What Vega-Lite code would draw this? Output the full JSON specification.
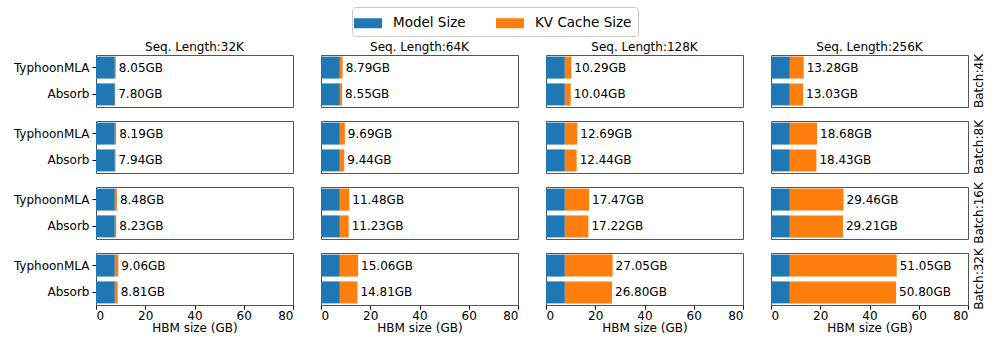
{
  "$schema": "https://vega.github.io/schema/vega-lite/v6.json",
  "padding": {"top": 6, "left": 13, "right": 5, "bottom": 5},
  "bounds": "flush",
  "config": {
    "font": "DejaVu Sans",
    "view": {"stroke": "#555", "strokeWidth": 1},
    "axis": {"labelFont": "DejaVu Sans", "titleFont": "DejaVu Sans", "labelFontSize": 12, "titleFontSize": 12, "labelColor": "#000", "titleColor": "#000", "tickColor": "#000", "grid": false, "domain": false, "titleFontWeight": "normal"},
    "header": {"labelFont": "DejaVu Sans", "labelFontSize": 12, "labelColor": "#000"},
    "legend": {"labelFont": "DejaVu Sans"}
  },
  "data": {"values": [
    {"s": "Seq. Length:32K", "b": "Batch:4K", "m": "TyphoonMLA", "model": 7.65, "total": 8.05, "label": "8.05GB"},
    {"s": "Seq. Length:32K", "b": "Batch:4K", "m": "Absorb", "model": 7.65, "total": 7.80, "label": "7.80GB"},
    {"s": "Seq. Length:32K", "b": "Batch:8K", "m": "TyphoonMLA", "model": 7.65, "total": 8.19, "label": "8.19GB"},
    {"s": "Seq. Length:32K", "b": "Batch:8K", "m": "Absorb", "model": 7.65, "total": 7.94, "label": "7.94GB"},
    {"s": "Seq. Length:32K", "b": "Batch:16K", "m": "TyphoonMLA", "model": 7.65, "total": 8.48, "label": "8.48GB"},
    {"s": "Seq. Length:32K", "b": "Batch:16K", "m": "Absorb", "model": 7.65, "total": 8.23, "label": "8.23GB"},
    {"s": "Seq. Length:32K", "b": "Batch:32K", "m": "TyphoonMLA", "model": 7.65, "total": 9.06, "label": "9.06GB"},
    {"s": "Seq. Length:32K", "b": "Batch:32K", "m": "Absorb", "model": 7.65, "total": 8.81, "label": "8.81GB"},
    {"s": "Seq. Length:64K", "b": "Batch:4K", "m": "TyphoonMLA", "model": 7.65, "total": 8.79, "label": "8.79GB"},
    {"s": "Seq. Length:64K", "b": "Batch:4K", "m": "Absorb", "model": 7.65, "total": 8.55, "label": "8.55GB"},
    {"s": "Seq. Length:64K", "b": "Batch:8K", "m": "TyphoonMLA", "model": 7.65, "total": 9.69, "label": "9.69GB"},
    {"s": "Seq. Length:64K", "b": "Batch:8K", "m": "Absorb", "model": 7.65, "total": 9.44, "label": "9.44GB"},
    {"s": "Seq. Length:64K", "b": "Batch:16K", "m": "TyphoonMLA", "model": 7.65, "total": 11.48, "label": "11.48GB"},
    {"s": "Seq. Length:64K", "b": "Batch:16K", "m": "Absorb", "model": 7.65, "total": 11.23, "label": "11.23GB"},
    {"s": "Seq. Length:64K", "b": "Batch:32K", "m": "TyphoonMLA", "model": 7.65, "total": 15.06, "label": "15.06GB"},
    {"s": "Seq. Length:64K", "b": "Batch:32K", "m": "Absorb", "model": 7.65, "total": 14.81, "label": "14.81GB"},
    {"s": "Seq. Length:128K", "b": "Batch:4K", "m": "TyphoonMLA", "model": 7.65, "total": 10.29, "label": "10.29GB"},
    {"s": "Seq. Length:128K", "b": "Batch:4K", "m": "Absorb", "model": 7.65, "total": 10.04, "label": "10.04GB"},
    {"s": "Seq. Length:128K", "b": "Batch:8K", "m": "TyphoonMLA", "model": 7.65, "total": 12.69, "label": "12.69GB"},
    {"s": "Seq. Length:128K", "b": "Batch:8K", "m": "Absorb", "model": 7.65, "total": 12.44, "label": "12.44GB"},
    {"s": "Seq. Length:128K", "b": "Batch:16K", "m": "TyphoonMLA", "model": 7.65, "total": 17.47, "label": "17.47GB"},
    {"s": "Seq. Length:128K", "b": "Batch:16K", "m": "Absorb", "model": 7.65, "total": 17.22, "label": "17.22GB"},
    {"s": "Seq. Length:128K", "b": "Batch:32K", "m": "TyphoonMLA", "model": 7.65, "total": 27.05, "label": "27.05GB"},
    {"s": "Seq. Length:128K", "b": "Batch:32K", "m": "Absorb", "model": 7.65, "total": 26.80, "label": "26.80GB"},
    {"s": "Seq. Length:256K", "b": "Batch:4K", "m": "TyphoonMLA", "model": 7.65, "total": 13.28, "label": "13.28GB"},
    {"s": "Seq. Length:256K", "b": "Batch:4K", "m": "Absorb", "model": 7.65, "total": 13.03, "label": "13.03GB"},
    {"s": "Seq. Length:256K", "b": "Batch:8K", "m": "TyphoonMLA", "model": 7.65, "total": 18.68, "label": "18.68GB"},
    {"s": "Seq. Length:256K", "b": "Batch:8K", "m": "Absorb", "model": 7.65, "total": 18.43, "label": "18.43GB"},
    {"s": "Seq. Length:256K", "b": "Batch:16K", "m": "TyphoonMLA", "model": 7.65, "total": 29.46, "label": "29.46GB"},
    {"s": "Seq. Length:256K", "b": "Batch:16K", "m": "Absorb", "model": 7.65, "total": 29.21, "label": "29.21GB"},
    {"s": "Seq. Length:256K", "b": "Batch:32K", "m": "TyphoonMLA", "model": 7.65, "total": 51.05, "label": "51.05GB"},
    {"s": "Seq. Length:256K", "b": "Batch:32K", "m": "Absorb", "model": 7.65, "total": 50.80, "label": "50.80GB"}
  ]},
  "facet": {
    "column": {"field": "s", "type": "nominal", "sort": ["Seq. Length:32K", "Seq. Length:64K", "Seq. Length:128K", "Seq. Length:256K"], "header": {"title": null, "labelPadding": 1}},
    "row": {"field": "b", "type": "nominal", "sort": ["Batch:4K", "Batch:8K", "Batch:16K", "Batch:32K"], "header": {"title": null, "labelOrient": "right", "labelAngle": -90, "labelPadding": -1}}
  },
  "spacing": {"column": 28, "row": 14},
  "spec": {
    "width": 197,
    "height": 52,
    "layer": [
      {
        "mark": {"type": "bar"},
        "encoding": {
          "y": {"field": "m", "type": "nominal", "sort": ["TyphoonMLA", "Absorb"], "title": null, "scale": {"paddingInner": 0.18, "paddingOuter": 0.06}, "axis": {"labelPadding": 3, "tickSize": 4}},
          "x": {"field": "model", "type": "quantitative", "scale": {"domain": [0, 80], "nice": false}, "title": "HBM size (GB)", "axis": {"values": [0, 20, 40, 60, 80], "tickSize": 4, "labelPadding": 1, "titlePadding": 1}},
          "color": {"datum": "Model Size", "scale": {"domain": ["Model Size", "KV Cache Size"], "range": ["#1f77b4", "#ff7f0e"]},
            "legend": {"title": null, "orient": "none", "direction": "horizontal", "legendX": 256, "legendY": -48, "symbolType": "M-1.4,-0.5H1.4V0.5H-1.4Z", "symbolSize": 400, "symbolStrokeWidth": 0, "labelFontSize": 13.5, "columnPadding": 30, "strokeColor": "#ccc", "cornerRadius": 3, "padding": 6, "labelOffset": 15}}
        }
      },
      {
        "mark": {"type": "bar"},
        "encoding": {
          "y": {"field": "m", "type": "nominal", "sort": ["TyphoonMLA", "Absorb"]},
          "x": {"field": "model", "type": "quantitative"},
          "x2": {"field": "total"},
          "color": {"datum": "KV Cache Size"}
        }
      },
      {
        "mark": {"type": "text", "align": "left", "baseline": "middle", "dx": 3, "fontSize": 12, "font": "DejaVu Sans", "color": "#000"},
        "encoding": {
          "y": {"field": "m", "type": "nominal", "sort": ["TyphoonMLA", "Absorb"]},
          "x": {"field": "total", "type": "quantitative"},
          "text": {"field": "label"}
        }
      }
    ]
  }
}
